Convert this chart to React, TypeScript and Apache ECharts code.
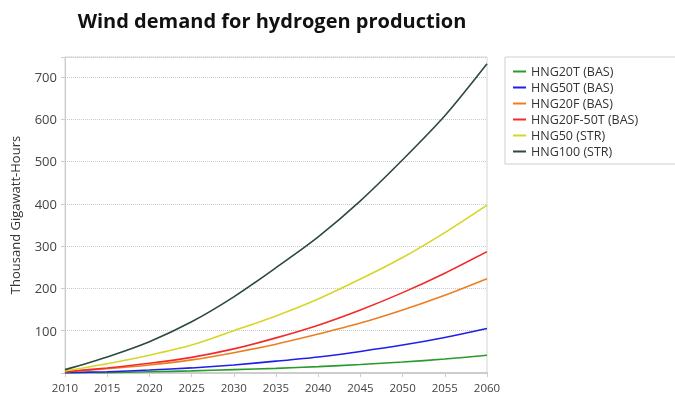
import React, { useEffect, useRef } from "react";
import * as echarts from "echarts";

const years = [2010, 2015, 2020, 2025, 2030, 2035, 2040, 2045, 2050, 2055, 2060];
const seriesNames = ["HNG20T (BAS)", "HNG50T (BAS)", "HNG20F (BAS)", "HNG20F-50T (BAS)", "HNG50 (STR)", "HNG100 (STR)"];
const hng20t = [0, 1, 3, 5, 8, 11, 15, 20, 26, 33, 42];
const hng50t = [1, 3, 7, 12, 19, 28, 38, 51, 66, 84, 105];
const hng20f = [3, 10, 19, 31, 48, 68, 92, 118, 149, 184, 223];
const hng20f50t = [3, 12, 23, 37, 57, 83, 113, 149, 190, 236, 287];
const hng50 = [5, 22, 42, 66, 100, 135, 175, 222, 273, 332, 397];
const hng100 = [8, 38, 74, 121, 180, 249, 322, 407, 504, 608, 731];
const colors = ["#2a9a2a", "#1f1fe8", "#ee7d22", "#f42a2a", "#d6d626", "#2d4a3c"];

export default function App() {
  const ref = useRef<HTMLDivElement>(null);
  useEffect(() => {
    document.body.style.margin = "0";
    const chart = echarts.init(ref.current!, null, { renderer: "svg" });
    const all = [hng20t, hng50t, hng20f, hng20f50t, hng50, hng100];
    chart.setOption({
      animation: false,
      title: {
        text: "Wind demand for hydrogen production",
        left: 267,
        textAlign: "center",
        top: 5,
        textStyle: { fontFamily: "Open Sans", fontWeight: "bold", fontSize: 20, color: "#111" },
      },
      grid: { left: 64, right: 188, top: 57, bottom: 21, show: true, borderColor: "#d4d4d4", borderWidth: 1 },
      legend: {
        orient: "vertical",
        left: 505,
        top: 57,
        width: 168,
        padding: [8, 40, 6, 8],
        itemGap: 3,
        itemWidth: 13,
        itemHeight: 2,
        icon: "rect",
        borderColor: "#cfcfcf",
        borderWidth: 1,
        textStyle: { fontFamily: "Open Sans", fontSize: 12.5, lineHeight: 13, color: "#333" },
        data: seriesNames,
      },
      xAxis: {
        type: "value",
        min: 2010,
        max: 2060,
        interval: 5,
        axisLine: { lineStyle: { color: "#cccccc", width: 2 } },
        axisTick: { show: true, length: 4, lineStyle: { color: "#cccccc" } },
        axisLabel: { color: "#444", fontSize: 11.5, fontFamily: "Open Sans", formatter: (v: number) => String(v) },
        splitLine: { show: false },
      },
      yAxis: {
        type: "value",
        min: 0,
        max: 747,
        interval: 100,
        name: "Thousand Gigawatt-Hours",
        nameLocation: "middle",
        nameGap: 44,
        nameTextStyle: { fontFamily: "Open Sans", fontSize: 13, color: "#333" },
        axisLine: { show: true, lineStyle: { color: "#cccccc" } },
        axisTick: { show: true, length: 4, lineStyle: { color: "#cccccc" } },
        axisLabel: {
          color: "#444",
          fontSize: 13,
          fontFamily: "Open Sans",
          formatter: (v: number) => (v === 0 || v > 700 ? "" : String(v)),
        },
        splitLine: { show: true, lineStyle: { type: "dotted", color: "#c8c8c8" } },
      },
      series: all.map((arr, i) => ({
        name: seriesNames[i],
        type: "line",
        data: years.map((y, j) => [y, arr[j]]),
        smooth: 0.3,
        showSymbol: false,
        symbol: "none",
        color: colors[i],
        lineStyle: { width: 1.6, color: colors[i] },
      })),
    });
    return () => chart.dispose();
  }, []);
  return <div ref={ref} style={{ position: "fixed", left: 0, top: 0, width: 675, height: 394 }} />;
}
